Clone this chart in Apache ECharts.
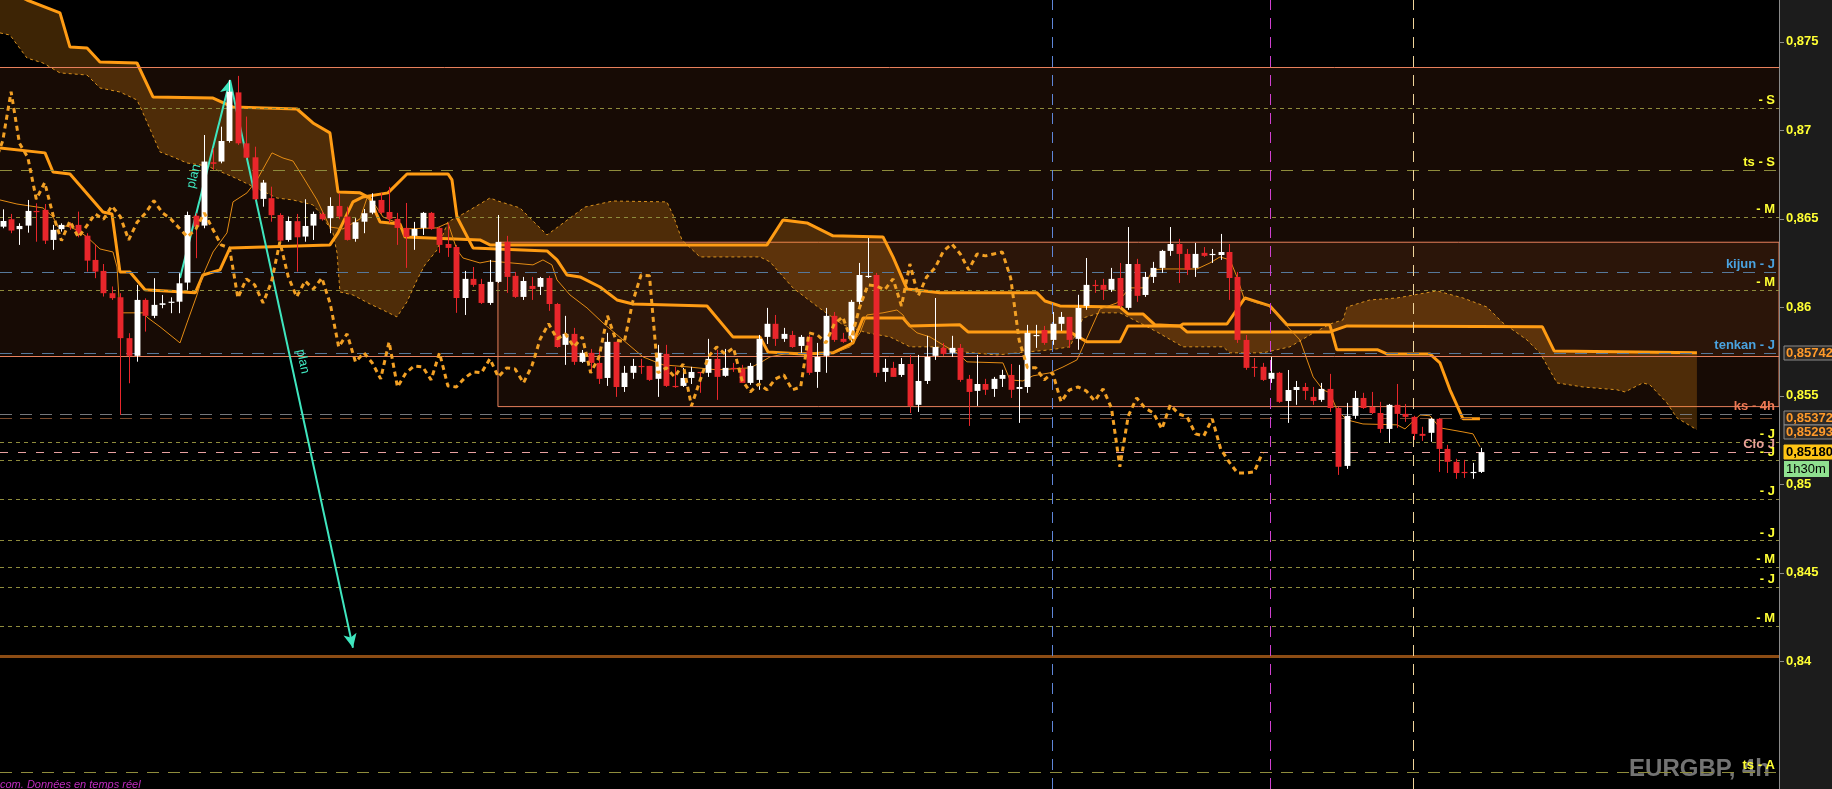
<!DOCTYPE html>
<html><head><meta charset="utf-8">
<script src="https://cdn.jsdelivr.net/npm/echarts@6/dist/echarts.min.js"></script>
<style>html,body{margin:0;padding:0;background:#000;overflow:hidden}#c{width:1832px;height:789px}</style>
</head><body><div id="c"></div>
<script>
// ---------- DATA ----------
const openP = [
.86455,.86497,.86441,.86461,.86544,.86550,.86380,.86441,.86469,.86465,
.86404,.86267,.86205,.86079,.86056,.85825,.85725,.86041,.85951,.86013,
.86026,.86031,.86139,.86517,.86461,.86819,.86823,.86939,.87214,.86926,
.86847,.86612,.86616,.86521,.86380,.86486,.86399,.86461,.86527,.86503,
.86572,.86512,.86386,.86483,.86534,.86606,.86538,.86499,.86448,.86403,
.86448,.86533,.86448,.86357,.86340,.86052,.86160,.86131,.86024,.86143,
.86369,.86177,.86058,.86120,.86115,.86165,.86018,.85787,.85849,.85691,
.85742,.85685,.85600,.85804,.85549,.85629,.85668,.85668,.85595,.85736,
.85555,.85555,.85600,.85634,.85629,.85708,.85612,.85657,.85651,.85572,
.85589,.85832,.85906,.85821,.85843,.85781,.85832,.85634,.85725,.85951,
.85821,.85821,.86030,.86171,.86182,.85634,.85657,.85617,.85679,.85448,
.85583,.85725,.85770,.85742,.85770,.85595,.85527,.85566,.85538,.85595,
.85617,.85538,.85549,.85838,.85871,.85815,.85906,.85945,.85821,.86007,
.86126,.86126,.86098,.86165,.85996,.86244,.86069,.86171,.86222,.86318,
.86357,.86301,.86222,.86307,.86295,.86295,.86312,.86171,.85815,.85663,
.85663,.85595,.85629,.85470,.85532,.85549,.85493,.85476,.85538,.85430,
.85103,.85386,.85487,.85436,.85402,.85312,.85448,.85397,.85380,.85284,
.85290,.85369,.85199,.85126,.85069,.85063,.85069];
const highP = [
.86553,.86527,.86474,.86606,.86587,.86583,.86465,.86474,.86478,.86540,
.86418,.86356,.86244,.86117,.86079,.85853,.86126,.86050,.86164,.86069,
.86056,.86192,.86540,.86531,.86973,.86898,.87020,.87284,.87307,.87077,
.86907,.86719,.86681,.86531,.86512,.86527,.86610,.86540,.86540,.86621,
.86644,.86568,.86503,.86555,.86644,.86646,.86680,.86533,.86589,.86482,
.86538,.86538,.86453,.86476,.86352,.86205,.86227,.86160,.86267,.86521,
.86403,.86199,.86171,.86171,.86171,.86177,.86024,.85951,.85883,.85758,
.85764,.85753,.85855,.85804,.85668,.85708,.85708,.85668,.85787,.85787,
.85663,.85657,.85663,.85634,.85821,.85759,.85764,.85685,.85674,.85685,
.85843,.85996,.85956,.85883,.85866,.85843,.85843,.85798,.85996,.85973,
.85855,.86041,.86250,.86391,.86194,.85708,.85691,.85713,.85730,.85730,
.85838,.86052,.85798,.85838,.85792,.85617,.85730,.85595,.85606,.85646,
.85679,.85674,.85900,.85900,.85894,.85973,.85973,.85945,.86070,.86278,
.86154,.86160,.86222,.86250,.86453,.86273,.86199,.86256,.86324,.86453,
.86386,.86329,.86363,.86340,.86329,.86414,.86357,.86199,.85843,.85713,
.85685,.85719,.85634,.85645,.85583,.85572,.85549,.85572,.85623,.85436,
.85459,.85527,.85516,.85521,.85465,.85453,.85566,.85453,.85386,.85324,
.85374,.85374,.85222,.85143,.85137,.85120,.85205];
const lowP = [
.86446,.86418,.86352,.86421,.86370,.86357,.86324,.86427,.86437,.86395,
.86201,.86164,.86060,.86041,.85391,.85570,.85692,.85862,.85938,.85994,
.85966,.85966,.86098,.86277,.86446,.86776,.86813,.86930,.86917,.86842,
.86606,.86568,.86483,.86370,.86370,.86201,.86370,.86380,.86489,.86418,
.86497,.86376,.86370,.86418,.86525,.86527,.86476,.86352,.86222,.86324,
.86408,.86437,.86307,.86284,.85968,.85956,.86115,.86018,.86013,.86137,
.86081,.86052,.86041,.86041,.86069,.85979,.85770,.85674,.85674,.85685,
.85629,.85566,.85555,.85493,.85521,.85595,.85623,.85583,.85493,.85549,
.85544,.85549,.85566,.85516,.85606,.85476,.85606,.85634,.85572,.85561,
.85533,.85792,.85781,.85804,.85770,.85742,.85617,.85544,.85629,.85804,
.85798,.85804,.86007,.86165,.85606,.85578,.85606,.85606,.85402,.85408,
.85566,.85702,.85725,.85719,.85578,.85329,.85442,.85504,.85493,.85549,
.85487,.85346,.85516,.85770,.85787,.85787,.85866,.85770,.85759,.85985,
.86081,.86041,.86086,.85996,.85985,.86030,.86058,.86137,.86194,.86290,
.86137,.86182,.86171,.86284,.86250,.86267,.86041,.85798,.85646,.85606,
.85583,.85572,.85459,.85346,.85448,.85476,.85448,.85465,.85408,.85052,
.85086,.85369,.85425,.85397,.85290,.85233,.85318,.85352,.85250,.85244,
.85239,.85069,.85063,.85030,.85035,.85030,.85063];
const closeP = [
.86487,.86433,.86459,.86544,.86537,.86376,.86437,.86465,.86455,.86408,
.86263,.86201,.86079,.86051,.85825,.85725,.86041,.85951,.86013,.86022,
.86031,.86135,.86521,.86455,.86823,.86810,.86939,.87218,.86926,.86845,
.86610,.86704,.86520,.86376,.86487,.86395,.86459,.86527,.86497,.86572,
.86512,.86380,.86480,.86531,.86602,.86534,.86499,.86448,.86397,.86442,
.86533,.86442,.86352,.86335,.86052,.86160,.86126,.86024,.86143,.86369,
.86171,.86058,.86148,.86103,.86165,.86018,.85775,.85849,.85691,.85742,
.85685,.85595,.85804,.85549,.85629,.85668,.85663,.85589,.85742,.85555,
.85549,.85600,.85634,.85629,.85708,.85606,.85657,.85651,.85572,.85668,
.85821,.85906,.85821,.85849,.85775,.85832,.85629,.85719,.85951,.85815,
.85804,.86030,.86182,.86177,.85629,.85657,.85606,.85679,.85442,.85583,
.85719,.85775,.85736,.85770,.85589,.85521,.85566,.85533,.85595,.85617,
.85533,.85549,.85855,.85843,.85798,.85906,.85945,.85815,.85996,.86126,
.86120,.86098,.86160,.86007,.86244,.86064,.86171,.86222,.86318,.86357,
.86301,.86211,.86301,.86290,.86301,.86312,.86165,.85815,.85657,.85657,
.85589,.85629,.85465,.85532,.85549,.85527,.85470,.85538,.85430,.85098,
.85386,.85487,.85430,.85402,.85312,.85448,.85397,.85380,.85284,.85273,
.85369,.85199,.85126,.85063,.85063,.85069,.85180];

// Ichimoku lines: [bar index, price]
const tenkanPts = [[-0.32,.86606],[1.70,.86583],[4.80,.86561],[5.99,.86510],[6.58,.86453],[7.65,.86459],[8.85,.86436],[10.04,.86397],[11.58,.86329],[13.13,.86312],[13.61,.86227],[13.96,.85968],[16.70,.85968],[17.30,.85939],[18.73,.85889],[21.11,.85798],[21.94,.85911],[23.13,.86069],[23.85,.86182],[25.04,.86312],[26.70,.86420],[27.42,.86595],[29.08,.86646],[30.27,.86719],[32.06,.86872],[33.37,.86843],[34.56,.86826],[35.75,.86736],[37.42,.86606],[38.96,.86453],[40.51,.86442],[42.54,.86499],[43.37,.86617],[44.32,.86578],[45.27,.86510],[46.70,.86482],[47.65,.86442],[51.70,.86448],[53.01,.86476],[54.08,.86324],[54.80,.86278],[56.82,.86250],[58.01,.86261],[63.13,.86239],[64.32,.86267],[65.39,.86239],[65.99,.86154],[67.54,.86069],[69.56,.85996],[71.46,.85911],[73.85,.85815],[76.23,.85719],[78.61,.85674],[81.46,.85663],[85.04,.85646],[88.96,.85657],[90.15,.85685],[91.35,.85719],[93.73,.85742],[97.65,.85742],[99.32,.85747],[100.87,.85776],[102.06,.85855],[102.89,.85956],[104.80,.85968],[106.46,.85984],[107.18,.85956],[108.01,.85889],[108.85,.85855],[110.39,.85832],[111.94,.85787],[113.61,.85742],[114.80,.85691],[119.08,.85685],[119.92,.85589],[121.46,.85583],[122.65,.85612],[124.68,.85629],[126.23,.85662],[127.89,.85702],[129.08,.85826],[130.63,.85990],[132.65,.86024],[134.19,.86109],[135.75,.86109],[136.94,.86211],[138.13,.86216],[142.18,.86216],[143.73,.86250],[144.92,.86284],[146.11,.86267],[146.94,.86171],[147.77,.86052],[149.32,.86024],[150.87,.86007],[152.42,.85917],[154.44,.85815],[156.01,.85606],[157.18,.85533],[158.01,.85516],[158.85,.85419],[160.04,.85363],[161.94,.85340],[165.99,.85335],[166.94,.85312],[168.73,.85391],[169.92,.85386],[171.11,.85318],[173.85,.85295],[175.04,.85284],[175.87,.85211]];
const kijunPts = [[-0.32,.86900],[5.04,.86872],[5.99,.86764],[8.01,.86753],[10.39,.86623],[11.94,.86538],[13.01,.86527],[13.96,.86199],[15.15,.86199],[16.94,.86098],[22.92,.86081],[23.85,.86182],[25.87,.86211],[27.06,.86335],[38.96,.86352],[39.92,.86420],[41.70,.86595],[42.89,.86623],[45.87,.86646],[48.13,.86753],[53.01,.86753],[53.49,.86719],[54.08,.86510],[55.99,.86335],[64.80,.86318],[65.99,.86267],[67.18,.86182],[68.73,.86171],[71.11,.86114],[73.13,.86041],[75.04,.86018],[83.85,.86007],[86.93,.85832],[90.15,.85832],[91.11,.85747],[95.27,.85736],[98.85,.85742],[101.23,.85798],[102.42,.85939],[107.18,.85939],[108.01,.85894],[113.96,.85900],[114.92,.85860],[127.06,.85860],[129.08,.85804],[133.01,.85804],[133.96,.85894],[140.15,.85894],[140.51,.85905],[145.75,.85905],[147.89,.86052],[150.87,.86007],[152.90,.85900],[157.99,.85900],[158.83,.85759],[163.71,.85759],[164.79,.85736],[169.90,.85736],[171.11,.85685],[172.30,.85533],[173.85,.85369],[175.87,.85369]];
const senkouAPts = [[-0.32,.87550],[0.87,.87538],[2.89,.87408],[4.80,.87380],[6.82,.87324],[10.04,.87312],[11.58,.87239],[13.96,.87216],[15.99,.87171],[16.70,.87098],[18.73,.86877],[20.27,.86849],[21.94,.86815],[24.32,.86798],[27.42,.86736],[30.63,.86663],[32.65,.86617],[34.56,.86606],[36.94,.86578],[37.77,.86533],[39.32,.86420],[39.80,.86307],[40.15,.86086],[41.70,.86069],[43.73,.86018],[45.27,.85984],[46.94,.85945],[48.13,.86030],[49.32,.86154],[50.27,.86239],[51.70,.86323],[53.01,.86482],[55.04,.86533],[58.01,.86617],[58.96,.86600],[61.58,.86561],[64.80,.86408],[69.32,.86566],[72.65,.86600],[79.08,.86595],[79.80,.86521],[80.87,.86380],[83.01,.86284],[90.15,.86284],[91.35,.86256],[94.08,.86109],[97.06,.86001],[100.04,.85900],[102.89,.85855],[105.63,.85832],[108.01,.85776],[111.23,.85776],[114.32,.85747],[118.37,.85730],[121.94,.85747],[124.68,.85759],[127.06,.85776],[128.61,.85939],[130.63,.85968],[133.01,.85968],[135.39,.85911],[137.42,.85860],[140.51,.85776],[145.27,.85776],[146.11,.85742],[150.04,.85742],[153.25,.85776],[155.63,.85843],[158.01,.85905],[159.56,.85928],[160.04,.86001],[162.77,.86041],[165.99,.86052],[170.75,.86092],[173.85,.86052],[176.70,.86001],[178.61,.85911],[181.46,.85815],[183.01,.85742],[185.04,.85572],[188.13,.85549],[192.18,.85533],[193.13,.85521],[195.27,.85572],[196.11,.85561],[198.13,.85459],[199.32,.85374],[201.70,.85307]];
const senkouBPts = [[-0.32,.87810],[2.89,.87736],[6.82,.87663],[8.01,.87470],[10.04,.87465],[11.58,.87386],[15.99,.87380],[17.89,.87188],[25.04,.87182],[27.42,.87131],[35.04,.87120],[36.94,.87041],[38.96,.86985],[39.92,.86651],[42.54,.86646],[43.73,.86617],[44.44,.86533],[44.92,.86482],[47.30,.86470],[47.89,.86397],[56.82,.86380],[58.01,.86352],[90.99,.86352],[92.89,.86493],[95.75,.86476],[98.85,.86403],[104.80,.86397],[105.99,.86284],[107.65,.86103],[111.58,.86081],[123.13,.86081],[124.08,.86035],[125.87,.86007],[133.01,.86001],[133.96,.85962],[135.75,.85962],[137.18,.85900],[140.15,.85894],[140.99,.85860],[157.99,.85860],[160.04,.85894],[183.30,.85889],[184.70,.85753],[201.70,.85742]];
const chikouShift = 26;

// y axis ticks
const yTickValues = [0.84, 0.845, 0.85, 0.855, 0.86, 0.865, 0.87, 0.875];

// horizontal levels
const levelValues = [0.87126, 0.86776, 0.86510, 0.86199, 0.86098, 0.85742, 0.85397, 0.85374, 0.85239, 0.85180, 0.85137, 0.84917, 0.84680, 0.84532, 0.84419, 0.84199, 0.84030, 0.83369];
const levelLabels = ['- S', 'ts - S', '- M', 'kijun - J', '- M', 'tenkan - J', 'ks - 4h', '', '- J', 'Clo J', '- J', '- J', '- J', '- M', '- J', '- M', '', 'ts - A'];
const levelKinds  = ['dot', 'ts', 'dot', 'blue', 'dot', 'blue', 'gray', 'brown', 'dot', 'clo', 'dot', 'dot', 'dot', 'dot', 'dot', 'dot', 'solid', 'ts'];

// rectangles (zones): start bar (null = from left edge), top, bottom
const boxStarts  = [null, 58.96];
const boxTops    = [0.87357, 0.86367];
const boxBottoms = [0.85725, 0.85438];

// vertical session separators (bar index)
const vLineX = [124.99, 150.87, 167.90];
const vLineKinds = ['blue', 'magenta', 'beige'];

// "plan" arrows: [from bar, from price, to bar, to price]
const planArrows = [[21.11, 0.86165, 27.06, 0.87284], [27.06, 0.87284, 41.70, 0.84075]];
const planText = 'plan';

// price tags on the axis
const tagValues = [0.85742, 0.85372, 0.85293, 0.85180];
const timerText = '1h30m';
const symbolText = 'EURGBP, 4h';
const footerText = 'com. Données en temps réel';

// ---------- CHART ----------
const X_MIN = -0.32, X_MAX = 211.47, Y_MIN = 0.83277, Y_MAX = 0.87736;
const FONT = '"Liberation Sans", Arial, sans-serif';
const BOX_BORDER = '#e8805c';
const fmt = v => String(+(+v).toFixed(5)).replace('.', ',');
const fmt5 = v => (+v).toFixed(5).replace('.', ',');

const kindStyle = {
  dot:   {color: '#8f8c3c', type: [4, 4], width: 1},
  ts:    {color: '#8f8c3c', type: [12, 9], width: 1},
  blue:  {color: '#56789a', type: [12, 9], width: 1},
  gray:  {color: '#76787c', type: [12, 8], width: 1},
  brown: {color: '#7a4a2c', type: [12, 8], width: 1},
  clo:   {color: '#e8a0a0', type: [8, 10], width: 1},
  solid: {color: '#8c4c14', type: 'solid', width: 3}
};
const kindLabelColor = {dot: '#ffff33', ts: '#ffff33', blue: '#4aa3e0', gray: '#f07a55', brown: '#f07a55', clo: '#e8a098', solid: '#ffff33'};
const vColors = {blue: '#5f86d8', magenta: '#d040d0', beige: '#f0d49a'};

const candleData = openP.map((o, i) => [i, o, closeP[i], lowP[i], highP[i]]);
const chikouData = closeP.map((c, i) => [i - chikouShift, c]);

const levelMarks = levelValues.map((v, i) => {
  const k = levelKinds[i];
  return {
    yAxis: v,
    lineStyle: {color: kindStyle[k].color, type: kindStyle[k].type, width: kindStyle[k].width},
    label: {show: !!levelLabels[i], formatter: levelLabels[i], position: 'insideEndTop',
      color: kindLabelColor[k], fontWeight: 'bold', fontSize: 13, fontFamily: FONT, distance: [4, 1]}
  };
});
const vMarks = vLineX.map((x, i) => ({
  xAxis: x, label: {show: false},
  lineStyle: {color: vColors[vLineKinds[i]], type: [11, 8], width: 1}
}));
// full-width boxes: edges drawn as plain horizontal lines (no side borders)
const boxEdgeMarks = [];
boxStarts.forEach((s, i) => {
  if (s === null) {
    [boxTops[i], boxBottoms[i]].forEach(v => boxEdgeMarks.push({
      yAxis: v, label: {show: false}, lineStyle: {color: BOX_BORDER, type: 'solid', width: 1}
    }));
  }
});

const boxAreas = boxTops.map((t, i) => [
  {coord: [boxStarts[i] === null ? X_MIN : boxStarts[i], t],
    itemStyle: {borderWidth: boxStarts[i] === null ? 0 : 1}},
  {coord: [X_MAX, boxBottoms[i]]}
]);

const lineSeries = (data, style, z) => ({
  type: 'line', data, showSymbol: false, symbol: 'none', silent: true, z,
  lineStyle: style, clip: true, animation: false
});

const option = {
  backgroundColor: '#000',
  animation: false,
  grid: {left: 0, right: 53, top: 0, bottom: 0, show: false},
  xAxis: {type: 'value', min: X_MIN, max: X_MAX, show: false,
    axisLine: {show: false, onZero: false}, axisTick: {show: false}, axisLabel: {show: false}, splitLine: {show: false}},
  yAxis: {
    type: 'value', position: 'right', min: Y_MIN, max: Y_MAX,
    splitLine: {show: false}, minorTick: {show: false}, minorSplitLine: {show: false},
    axisLine: {show: true, onZero: false, lineStyle: {color: '#8a8a8a', width: 1}},
    axisTick: {show: false},
    axisLabel: {color: '#ffff33', fontWeight: 'bold', fontSize: 13, fontFamily: FONT, margin: 7,
      customValues: yTickValues, formatter: fmt}
  },
  series: [
    {type: 'line', data: [], z: 1, silent: true,
      markArea: {silent: true, precision: 6, itemStyle: {color: 'rgba(255,120,60,0.09)', borderColor: BOX_BORDER, borderWidth: 1},
        label: {show: false}, data: boxAreas}},
    {type: 'line', data: [], z: 2, silent: true,
      markLine: {silent: true, symbol: 'none', precision: 6, animation: false, data: boxEdgeMarks.concat(levelMarks, vMarks)}},
    {type: 'custom', z: 3, silent: true, data: [[0, 0.86]],
      renderItem: (params, api) => {
        const pts = senkouAPts.map(p => api.coord(p)).concat(senkouBPts.slice().reverse().map(p => api.coord(p)));
        return {type: 'polygon', shape: {points: pts}, style: {fill: 'rgba(255,150,20,0.24)'}};
      }},
    lineSeries(senkouAPts, {color: '#d8901c', width: 1, type: [3, 3]}, 4),
    lineSeries(senkouBPts, {color: '#ff9c14', width: 3}, 4),
    lineSeries(kijunPts, {color: '#ff9c14', width: 3}, 4),
    lineSeries(tenkanPts, {color: '#e48c14', width: 1}, 4),
    {type: 'custom', z: 5, silent: true, data: candleData, encode: {x: 0, y: [1, 2, 3, 4]},
      renderItem: (params, api) => {
        const x = api.value(0), o = api.value(1), c = api.value(2), l = api.value(3), h = api.value(4);
        const po = api.coord([x, o]), pc = api.coord([x, c]), pl = api.coord([x, l]), ph = api.coord([x, h]);
        const w = api.size([1, 0])[0] * 0.7;
        const col = c >= o ? '#ffffff' : '#e8262b';
        const top = Math.min(po[1], pc[1]), bot = Math.max(po[1], pc[1]);
        const cx = Math.round(po[0]) + 0.5;
        return {type: 'group', children: [
          {type: 'line', shape: {x1: cx, y1: ph[1], x2: cx, y2: pl[1]}, style: {stroke: col, lineWidth: 1}},
          {type: 'rect', shape: {x: cx - w / 2, y: top, width: w, height: Math.max(bot - top, 1.2)}, style: {fill: col}}
        ]};
      }},
    lineSeries(chikouData, {color: '#f2a024', width: 3, type: [5, 4]}, 6),
    {type: 'line', data: [], z: 7, silent: true,
      markLine: {silent: true, precision: 6, symbol: ['none', 'arrow'], symbolSize: [10, 14], animation: false,
        lineStyle: {color: '#3fe6bf', width: 2, type: 'solid'},
        label: {show: true, position: 'middle', formatter: planText, color: '#3fe6bf', fontSize: 13, fontFamily: FONT},
        data: planArrows.map(a => [{coord: [a[0], a[1]]}, {coord: [a[2], a[3]]}])}}
  ]
};

const chart = echarts.init(document.getElementById('c'), null, {width: 1832, height: 789});
chart.setOption(option);

const yp = v => chart.convertToPixel({yAxisIndex: 0}, v);
const axisX = chart.convertToPixel({xAxisIndex: 0}, X_MAX);
const W = 1832, H = 789;
const graphics = [
  {type: 'rect', z: -1, silent: true, shape: {x: axisX + 0.5, y: 0, width: W - axisX, height: H}, style: {fill: '#1c1c1c'}},
  {type: 'line', z: 20, silent: true, shape: {x1: Math.round(axisX) + 0.5, y1: 0, x2: Math.round(axisX) + 0.5, y2: H},
    style: {stroke: '#8a8a8a', lineWidth: 1}},
  {type: 'text', z: -1, silent: true, right: W - axisX + 9, top: H - 32,
    style: {text: symbolText, fill: 'rgba(135,135,135,0.85)', font: 'bold 24px ' + FONT}},
  {type: 'text', z: 10, silent: true, left: 0, top: H - 10,
    style: {text: footerText, fill: '#c02cc0', font: 'italic 11px ' + FONT}}
];
// axis ticks on the right side of the price axis
yTickValues.forEach(v => {
  const y = Math.round(yp(v)) + 0.5;
  graphics.push({type: 'line', z: 20, silent: true, shape: {x1: axisX, y1: y, x2: axisX + 5, y2: y},
    style: {stroke: '#8a8a8a', lineWidth: 1}});
});
tagValues.forEach((v, i) => {
  const y = Math.round(yp(v));
  const last = i === tagValues.length - 1;
  graphics.push({type: 'group', z: 50, silent: true, x: axisX + 5, y: y - 7, children: [
    {type: 'rect', shape: {x: 0, y: 0, width: 60, height: 14},
      style: {fill: last ? '#ffc414' : '#2e2a26', stroke: last ? '#ffc414' : '#8a8a8a', lineWidth: 1}},
    {type: 'text', x: 2, y: 7, style: {text: fmt5(v), fill: last ? '#000' : '#ff9a2a',
      font: 'bold 13px ' + FONT, verticalAlign: 'middle'}}
  ]});
  if (last) {
    graphics.push({type: 'group', z: 50, silent: true, x: axisX + 5, y: y + 9, children: [
      {type: 'rect', shape: {x: 0, y: 0, width: 45, height: 16}, style: {fill: '#8fe08f'}},
      {type: 'text', x: 2, y: 8, style: {text: timerText, fill: '#000', font: '13px ' + FONT, verticalAlign: 'middle'}}
    ]});
  }
});
chart.setOption({graphic: graphics});
</script>
</body></html>
